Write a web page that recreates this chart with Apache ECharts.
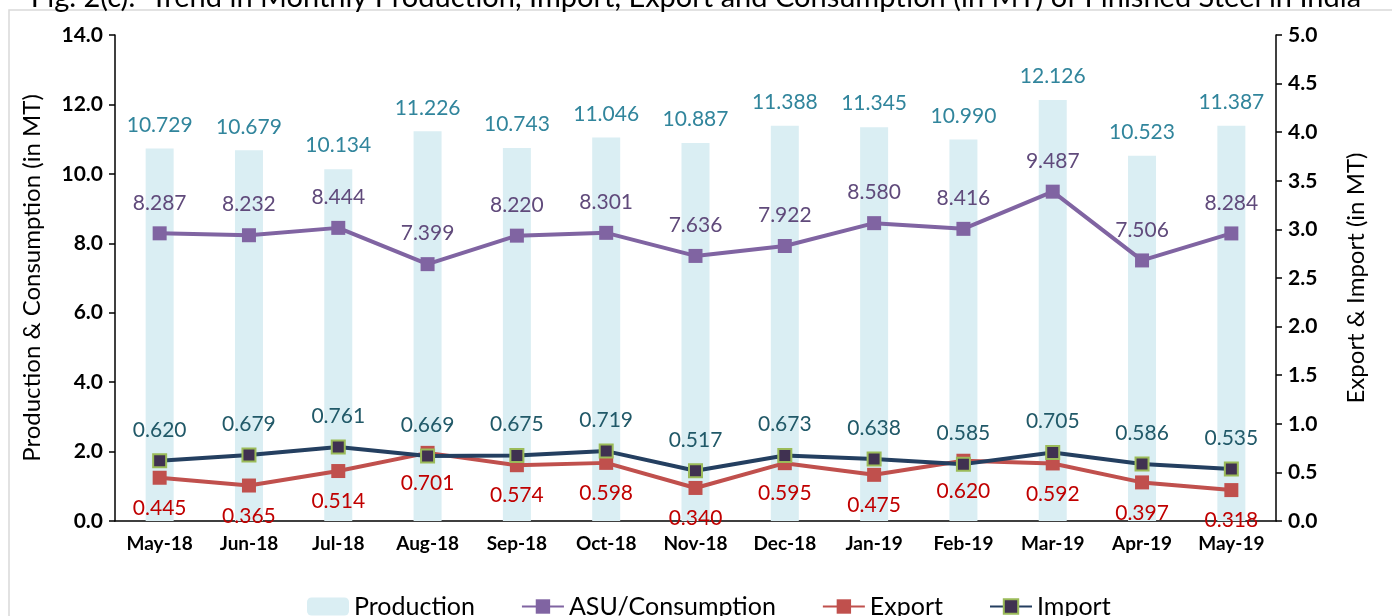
<!DOCTYPE html>
<html>
<head>
<meta charset="utf-8">
<script src="https://cdn.jsdelivr.net/npm/echarts@6/dist/echarts.min.js"></script>
<style>
  html, body { margin: 0; padding: 0; background: #fff; }
  #chart { width: 1392px; height: 616px; }
</style>
</head>
<body>
<div id="chart"></div>
<script>
// 数据
const months = ["May-18", "Jun-18", "Jul-18", "Aug-18", "Sep-18", "Oct-18", "Nov-18",
  "Dec-18", "Jan-19", "Feb-19", "Mar-19", "Apr-19", "May-19"]
const production = [10.729, 10.679, 10.134, 11.226, 10.743, 11.046, 10.887, 11.388, 11.345, 10.990, 12.126, 10.523, 11.387]
const consumption = [8.287, 8.232, 8.444, 7.399, 8.220, 8.301, 7.636, 7.922, 8.580, 8.416, 9.487, 7.506, 8.284]
const exportData = [0.445, 0.365, 0.514, 0.701, 0.574, 0.598, 0.340, 0.595, 0.475, 0.620, 0.592, 0.397, 0.318]
const importData = [0.620, 0.679, 0.761, 0.669, 0.675, 0.719, 0.517, 0.673, 0.638, 0.585, 0.705, 0.586, 0.535]

const font = "Lato, 'Open Sans', sans-serif"
const fmt3 = (p) => p.value.toFixed(3)

const myChart = echarts.init(document.getElementById("chart"))

const option = {
  animation: false,
  textStyle: { fontFamily: font },
  title: {
    text: "Fig. 2(c):  Trend in Monthly Production, Import, Export and Consumption (in MT) of Finished Steel in India",
    left: "center",
    top: -22,
    textStyle: { fontSize: 29, fontWeight: "normal", color: "#000", fontFamily: font }
  },
  graphic: [
    {
      type: "rect",
      shape: { x: 9, y: 10, width: 1500, height: 800 },
      style: { fill: "none", stroke: "#d9d9d9", lineWidth: 1.5 },
      silent: true,
      z: -10
    }
  ],
  legend: {
    bottom: -8,
    left: 302,
    itemGap: 46,
    itemWidth: 42,
    itemHeight: 18,
    textStyle: { fontSize: 25, color: "#000", fontFamily: font },
    data: ["Production", "ASU/Consumption", "Export", "Import"]
  },
  grid: { left: 115, right: 116, top: 35, bottom: 95 },
  xAxis: {
    type: "category",
    data: months,
    boundaryGap: true,
    axisLine: { lineStyle: { color: "#000", width: 1.5 } },
    axisTick: { alignWithLabel: true, length: 6, lineStyle: { color: "#000", width: 1.5 } },
    axisLabel: { interval: 0, fontSize: 19, fontWeight: "bold", color: "#000", margin: 13 }
  },
  yAxis: [
    {
      type: "value",
      min: 0,
      max: 14,
      interval: 2,
      name: "Production & Consumption (in MT)",
      nameLocation: "middle",
      nameGap: 71,
      nameTextStyle: { fontSize: 24, color: "#000" },
      axisLine: { show: true, lineStyle: { color: "#000", width: 1.5 } },
      axisTick: { show: true, length: 6, lineStyle: { color: "#000", width: 1.5 } },
      splitLine: { show: false },
      axisLabel: { fontSize: 21, fontWeight: "bold", color: "#000", margin: 12, formatter: (v) => v.toFixed(1) }
    },
    {
      type: "value",
      min: 0,
      max: 5,
      interval: 0.5,
      name: "Export & Import (in MT)",
      nameLocation: "middle",
      nameGap: 68,
      nameRotate: 90,
      nameTextStyle: { fontSize: 24, color: "#000" },
      axisLine: { show: true, lineStyle: { color: "#000", width: 1.5 } },
      axisTick: { show: true, length: 6, lineStyle: { color: "#000", width: 1.5 } },
      splitLine: { show: false },
      axisLabel: { fontSize: 21, fontWeight: "bold", color: "#000", margin: 12, formatter: (v) => v.toFixed(1) }
    }
  ],
  series: [
    {
      name: "Production",
      type: "bar",
      yAxisIndex: 0,
      barWidth: 28,
      itemStyle: { color: "#daeef3" },
      label: { show: true, position: "top", distance: 13, fontSize: 21, color: "#31859c", formatter: fmt3 },
      data: production,
      z: 1
    },
    {
      name: "ASU/Consumption",
      type: "line",
      yAxisIndex: 0,
      symbol: "rect",
      symbolSize: 14,
      lineStyle: { color: "#8064a2", width: 4 },
      itemStyle: { color: "#8064a2" },
      label: { show: true, position: "top", distance: 13, fontSize: 21, color: "#604a7b", formatter: fmt3 },
      data: consumption,
      z: 3
    },
    {
      name: "Export",
      type: "line",
      yAxisIndex: 1,
      symbol: "rect",
      symbolSize: 14,
      lineStyle: { color: "#c0504d", width: 4 },
      itemStyle: { color: "#c0504d" },
      label: { show: true, position: "bottom", distance: 13, fontSize: 21, color: "#c00000", formatter: fmt3 },
      data: exportData,
      z: 3
    },
    {
      name: "Import",
      type: "line",
      yAxisIndex: 1,
      symbol: "rect",
      symbolSize: 13,
      lineStyle: { color: "#243f60", width: 4 },
      itemStyle: { color: "#403151", borderColor: "#9bbb59", borderWidth: 2 },
      label: { show: true, position: "top", distance: 13, fontSize: 21, color: "#215968", formatter: fmt3 },
      data: importData,
      z: 4
    }
  ]
}

myChart.setOption(option)
</script>
</body>
</html>
